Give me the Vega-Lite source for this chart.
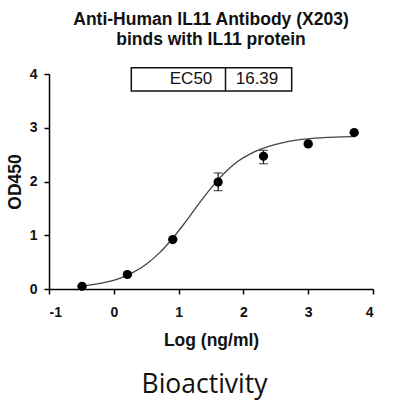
{
  "$schema": "https://vega.github.io/schema/vega-lite/v6.json",
  "autosize": {"type": "none"},
  "width": 324,
  "height": 215,
  "padding": {"left": 49, "top": 74, "right": 24, "bottom": 111},
  "background": "white",
  "title": {
    "text": ["Anti-Human IL11 Antibody (X203)", "binds with IL11 protein"],
    "font": "Liberation Sans",
    "fontSize": 17.5,
    "fontWeight": "bold",
    "lineHeight": 20,
    "color": "#111",
    "anchor": "middle",
    "frame": "group",
    "offset": 18.5
  },
  "config": {
    "view": {"stroke": null},
    "axis": {
      "grid": false,
      "domainColor": "black",
      "domainWidth": 1.5,
      "tickColor": "black",
      "tickWidth": 1.5,
      "tickSize": 5,
      "labelFont": "Liberation Sans",
      "labelFontWeight": "bold",
      "labelFontSize": 14,
      "labelColor": "#111",
      "labelExpr": "toString(datum.value)",
      "titleFont": "Liberation Sans",
      "titleFontWeight": "bold",
      "titleFontSize": 17.5,
      "titleColor": "#111"
    }
  },
  "datasets": {
    "curve": [
      {"x": -0.5, "y": 0.054}, {"x": -0.3, "y": 0.085}, {"x": -0.1, "y": 0.132},
      {"x": 0.1, "y": 0.203}, {"x": 0.3, "y": 0.309}, {"x": 0.5, "y": 0.461},
      {"x": 0.7, "y": 0.667}, {"x": 0.9, "y": 0.93}, {"x": 1.1, "y": 1.238},
      {"x": 1.3, "y": 1.565}, {"x": 1.5, "y": 1.877}, {"x": 1.7, "y": 2.148},
      {"x": 1.9, "y": 2.363}, {"x": 2.1, "y": 2.51}, {"x": 2.3, "y": 2.615},
      {"x": 2.5, "y": 2.69}, {"x": 2.7, "y": 2.745}, {"x": 2.9, "y": 2.782},
      {"x": 3.1, "y": 2.806}, {"x": 3.3, "y": 2.821}, {"x": 3.5, "y": 2.83},
      {"x": 3.7, "y": 2.836}
    ],
    "points": [
      {"x": -0.49, "y": 0.05, "lo": 0.04, "hi": 0.06},
      {"x": 0.21, "y": 0.27, "lo": 0.26, "hi": 0.28},
      {"x": 0.91, "y": 0.92, "lo": 0.91, "hi": 0.93},
      {"x": 1.61, "y": 1.99, "lo": 1.83, "hi": 2.16},
      {"x": 2.31, "y": 2.47, "lo": 2.33, "hi": 2.58},
      {"x": 3.0, "y": 2.70, "lo": 2.68, "hi": 2.72},
      {"x": 3.71, "y": 2.91, "lo": 2.9, "hi": 2.92}
    ],
    "box": [{"x1": 0.27, "x2": 2.745, "y1": 3.684, "y2": 4.117, "xd": 1.724}],
    "labels": [
      {"x": 1.52, "y": 3.9, "t": "EC50", "align": "right"},
      {"x": 2.21, "y": 3.9, "t": "16.39", "align": "center"}
    ],
    "caption": [{"x": 1.4, "y": -1.93, "t": "Bioactivity"}]
  },
  "layer": [
    {
      "data": {"name": "curve"},
      "mark": {"type": "line", "color": "#444", "strokeWidth": 1.3, "interpolate": "monotone"},
      "encoding": {
        "x": {"field": "x", "type": "quantitative",
              "scale": {"domain": [-1, 4], "nice": false, "zero": false},
              "axis": {"values": [-1, 0, 1, 2, 3, 4], "title": "Log (ng/ml)", "labelPadding": 11, "titlePadding": 12}},
        "y": {"field": "y", "type": "quantitative",
              "scale": {"domain": [0, 4], "nice": false, "zero": false},
              "axis": {"values": [0, 1, 2, 3, 4], "title": "OD450", "labelPadding": 7, "titlePadding": 5}}
      }
    },
    {
      "data": {"name": "points"},
      "mark": {"type": "rule", "color": "#111", "strokeWidth": 1.2},
      "encoding": {
        "x": {"field": "x", "type": "quantitative"},
        "y": {"field": "lo", "type": "quantitative"},
        "y2": {"field": "hi"}
      }
    },
    {
      "data": {"name": "points"},
      "mark": {"type": "tick", "orient": "horizontal", "color": "#111", "size": 9, "thickness": 1.2},
      "encoding": {
        "x": {"field": "x", "type": "quantitative"},
        "y": {"field": "lo", "type": "quantitative"}
      }
    },
    {
      "data": {"name": "points"},
      "mark": {"type": "tick", "orient": "horizontal", "color": "#111", "size": 9, "thickness": 1.2},
      "encoding": {
        "x": {"field": "x", "type": "quantitative"},
        "y": {"field": "hi", "type": "quantitative"}
      }
    },
    {
      "data": {"name": "points"},
      "mark": {"type": "circle", "color": "#000", "opacity": 1, "size": 85},
      "encoding": {
        "x": {"field": "x", "type": "quantitative"},
        "y": {"field": "y", "type": "quantitative"}
      }
    },
    {
      "data": {"name": "box"},
      "mark": {"type": "rect", "fill": "white", "stroke": "#111", "strokeWidth": 1.5},
      "encoding": {
        "x": {"field": "x1", "type": "quantitative"},
        "x2": {"field": "x2"},
        "y": {"field": "y1", "type": "quantitative"},
        "y2": {"field": "y2"}
      }
    },
    {
      "data": {"name": "box"},
      "mark": {"type": "rule", "color": "#111", "strokeWidth": 1.5},
      "encoding": {
        "x": {"field": "xd", "type": "quantitative"},
        "y": {"field": "y1", "type": "quantitative"},
        "y2": {"field": "y2"}
      }
    },
    {
      "data": {"name": "labels"},
      "transform": [{"filter": "datum.align == 'right'"}],
      "mark": {"type": "text", "align": "right", "baseline": "middle", "font": "Liberation Sans", "fontSize": 17, "color": "#111"},
      "encoding": {
        "x": {"field": "x", "type": "quantitative"},
        "y": {"field": "y", "type": "quantitative"},
        "text": {"field": "t"}
      }
    },
    {
      "data": {"name": "labels"},
      "transform": [{"filter": "datum.align == 'center'"}],
      "mark": {"type": "text", "align": "center", "baseline": "middle", "font": "Liberation Sans", "fontSize": 17, "color": "#111"},
      "encoding": {
        "x": {"field": "x", "type": "quantitative"},
        "y": {"field": "y", "type": "quantitative"},
        "text": {"field": "t"}
      }
    },
    {
      "data": {"name": "caption"},
      "mark": {"type": "text", "align": "center", "baseline": "alphabetic", "font": "Open Sans", "fontSize": 26.5, "color": "#111"},
      "encoding": {
        "x": {"field": "x", "type": "quantitative"},
        "y": {"field": "y", "type": "quantitative"},
        "text": {"field": "t"}
      }
    }
  ]
}
